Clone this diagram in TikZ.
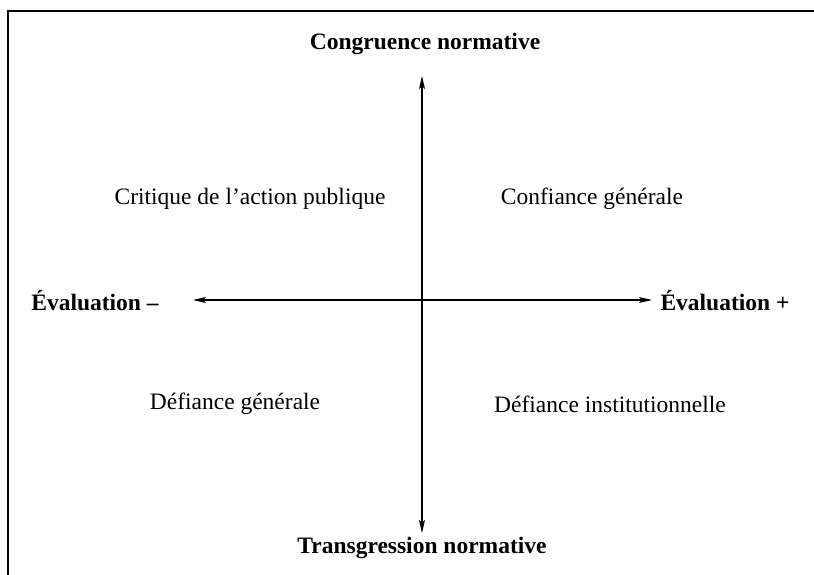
\documentclass[tikz,border=0pt]{standalone}
\usepackage{fontspec}
\setmainfont{Liberation Serif}
\usetikzlibrary{arrows.meta}

\begin{document}
\begin{tikzpicture}[x=1pt,y=-1pt,every node/.style={inner sep=0pt,font=\fontsize{23.5}{28}\selectfont},
  pole/.style={font=\fontsize{23.5}{28}\selectfont\bfseries},
  axis/.style={line width=1.1pt,{Stealth[length=13pt,width=6pt,inset=3pt]}-{Stealth[length=13pt,width=6pt,inset=3pt]}}]
  \useasboundingbox (0,0) rectangle (814,575);
  \draw[line width=1.3pt] (8,575) -- (8,11) -- (814,11);
  \path (425,44) node[pole] (cong) {Congruence normative}
  (422,548) node[pole] (trans) {Transgression normative}
  (95,301) node[pole] (evmoins) {Évaluation –}
  (725,301) node[pole] (evplus) {Évaluation +};
  \path (422,76) coordinate (haut) (422,533) coordinate (bas)
  (193,300) coordinate (gauche) (652,300) coordinate (droite);
  \draw[axis] (bas) -- (haut);
  \draw[axis] (gauche) -- (droite);
  \path (250,199) node (critique) {Critique de l’action publique}
  (592,199) node (confiance) {Confiance générale}
  (235,404) node (defgen) {Défiance générale}
  (610,404) node (definst) {Défiance institutionnelle};
\end{tikzpicture}
\end{document}
